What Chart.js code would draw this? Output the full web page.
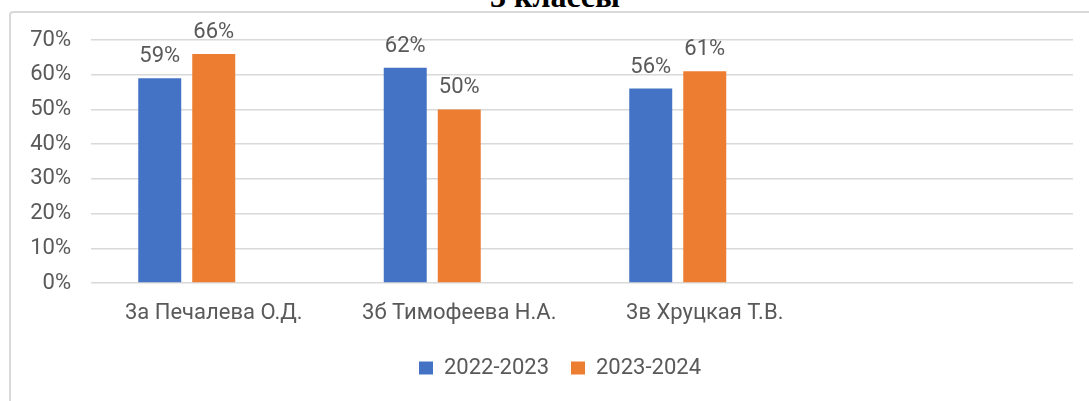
<!DOCTYPE html>
<html lang="ru">
<head>
  <meta charset="UTF-8">
  <title>3 классы</title>
  <script src="https://cdn.jsdelivr.net/npm/chart.js"></script>
  <style>
    html, body {
      margin: 0;
      padding: 0;
      background: #fff;
      overflow: hidden;
    }
    #wrap {
      position: relative;
      width: 1089px;
      height: 401px;
    }
    #frame {
      position: absolute;
      left: 9px;
      top: 11px;
      width: 1200px;
      height: 500px;
      border-top: 2px solid #d9d9d9;
      border-left: 2px solid #d9d9d9;
      border-top-left-radius: 4px;
    }
    #title {
      position: absolute;
      left: 0;
      top: -20px;
      width: 1110px;
      text-align: center;
      font: bold 32px "Liberation Serif", "Times New Roman", serif;
      line-height: 32px;
      color: #000;
    }
    canvas {
      position: absolute;
      left: 0;
      top: 0;
    }
  </style>
</head>
<body>
  <div id="wrap">
    <div id="frame"></div>
    <div id="title">3 классы</div>
    <canvas id="chart" width="1089" height="401"></canvas>
  </div>

  <script>
    const categories = ['3а Печалева О.Д.', '3б Тимофеева Н.А.', '3в Хруцкая Т.В.', ''];
    const series2022 = [0.59, 0.62, 0.56, null];
    const series2023 = [0.66, 0.50, 0.61, null];
    const seriesEmpty = [null, null, null, null]; // blank third series, keeps bars left in each group
    const yTicks = [0, 0.1, 0.2, 0.3, 0.4, 0.5, 0.6, 0.7];

    const textColor = '#595959';
    const fontFamily = 'Roboto, "Noto Sans", sans-serif';

    // draws the percent labels above the bars
    const valueLabels = {
      id: 'valueLabels',
      afterDatasetsDraw(chart) {
        const c = chart.ctx;
        c.save();
        c.fillStyle = textColor;
        c.font = '22px ' + fontFamily;
        c.textAlign = 'center';
        c.textBaseline = 'alphabetic';
        chart.data.datasets.forEach((ds, i) => {
          const meta = chart.getDatasetMeta(i);
          meta.data.forEach((bar, j) => {
            const v = ds.data[j];
            if (v == null) return;
            c.fillText(Math.round(v * 100) + '%', bar.x, bar.y - 16);
          });
        });
        c.restore();
      }
    };

    // legend in the original sits a bit right of the canvas centre
    const legendShift = {
      id: 'legendShift',
      beforeDraw(chart) {
        if (chart.legend) chart.legend.left = 47;
      }
    };

    const ctx = document.getElementById('chart').getContext('2d');
    new Chart(ctx, {
      type: 'bar',
      data: {
        labels: categories,
        datasets: [
          { label: '2022-2023', data: series2022, backgroundColor: '#4472c4' },
          { label: '2023-2024', data: series2023, backgroundColor: '#ed7d31' },
          { label: '', data: seriesEmpty, backgroundColor: '#a5a5a5' }
        ]
      },
      options: {
        responsive: false,
        animation: false,
        categoryPercentage: 0.66,
        barPercentage: 0.796,
        layout: { padding: { left: 0, right: 16, top: 40, bottom: 12 } },
        scales: {
          x: {
            grid: { display: false },
            border: { display: false },
            ticks: {
              color: textColor,
              font: { family: fontFamily, size: 22 },
              padding: 9,
              maxRotation: 0,
              autoSkip: false
            },
            afterFit(s) { s.height = 52; }
          },
          y: {
            min: 0,
            max: 0.7,
            border: { display: false },
            grid: { color: '#d9d9d9', lineWidth: 1.5, drawTicks: false },
            afterBuildTicks(s) { s.ticks = yTicks.map(v => ({ value: v })); },
            ticks: {
              color: textColor,
              font: { family: fontFamily, size: 22 },
              padding: 20,
              callback: v => Math.round(v * 100) + '%'
            },
            afterFit(s) { s.width = 91; }
          }
        },
        plugins: {
          legend: {
            position: 'bottom',
            labels: {
              color: textColor,
              font: { family: fontFamily, size: 22 },
              boxWidth: 14,
              boxHeight: 13,
              padding: 22,
              filter: item => item.text !== ''
            }
          },
          tooltip: { enabled: false }
        }
      },
      plugins: [valueLabels, legendShift]
    });
  </script>
</body>
</html>
